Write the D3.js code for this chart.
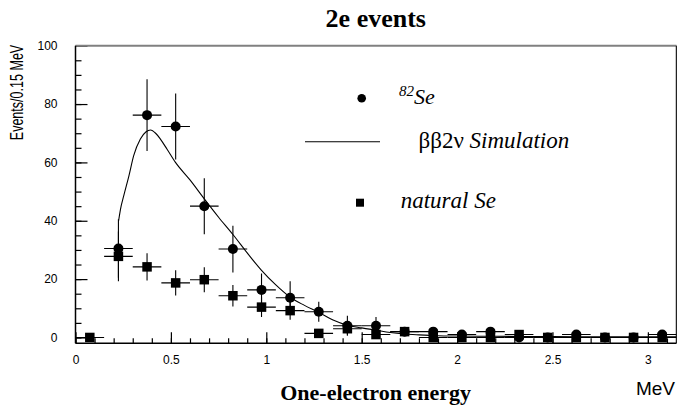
<!DOCTYPE html>
<html>
<head>
<meta charset="utf-8">
<script src="https://cdn.jsdelivr.net/npm/d3@7"></script>
<style>
  html, body { margin: 0; padding: 0; background: #fff; }
  svg { display: block; }
  .tick text { font-family: "Liberation Sans", Arial, sans-serif; font-size: 12px; fill: #000; }
</style>
</head>
<body>
<svg id="chart" width="677" height="410"></svg>
<script>
// Bin centres (MeV), bin width 0.15 MeV
const binWidth = 0.15;

// 82Se sample: events per bin and error
const se82X   = [0.225, 0.375, 0.525, 0.675, 0.825, 0.975, 1.125, 1.275, 1.425, 1.575, 1.725, 1.875, 2.025, 2.175, 2.325, 2.475, 2.625, 2.775, 2.925, 3.075];
const se82Y   = [30.5, 76.2, 72.3, 45.0, 30.3, 16.3, 13.6, 8.8, 4.0, 4.0, 2.0, 2.0, 1.0, 2.0, 0.0, 0.0, 1.0, 0.0, 0.0, 1.0];
const se82Err = [10.0, 12.3, 11.3, 9.6, 8.0, 5.6, 5.7, 3.4, 3.4, 3.0, 1.5, 1.5, 1.0, 1.5, 1.0, 0.8, 1.0, 0.8, 0.8, 1.0];

// natural Se sample
const natX   = [0.075, 0.225, 0.375, 0.525, 0.675, 0.825, 0.975, 1.125, 1.275, 1.425, 1.575, 1.725, 1.875, 2.025, 2.175, 2.325, 2.475, 2.625, 2.775, 2.925, 3.075];
const natY   = [0.0, 27.8, 24.2, 18.7, 19.8, 14.3, 10.4, 9.2, 1.4, 3.0, 1.0, 2.0, 0.0, 0.0, 0.0, 1.0, 0.0, 0.0, 0.0, 0.0, 0.0];
const natErr = [0.8, 8.5, 4.7, 4.3, 4.3, 3.7, 3.4, 3.1, 1.2, 2.0, 1.0, 1.5, 0.8, 0.8, 0.8, 1.0, 0.8, 0.8, 0.8, 0.8, 0.8];

// ββ2ν simulation curve
const simX = [0.226, 0.236, 0.253, 0.28, 0.305, 0.34, 0.37, 0.393, 0.42, 0.445, 0.48, 0.524, 0.6, 0.675, 0.75, 0.825, 0.9, 0.975, 1.05, 1.125, 1.2, 1.275, 1.35, 1.425, 1.5, 1.575, 1.65, 1.725, 1.8, 1.9, 2.0, 2.2, 2.5, 2.8, 3.15];
const simY = [40.0, 44.0, 48.6, 55.4, 62.3, 68.0, 70.5, 71.1, 70.0, 68.0, 64.5, 60.0, 54.0, 47.5, 41.2, 35.3, 29.0, 23.0, 18.0, 13.8, 11.0, 8.6, 6.0, 4.2, 3.3, 2.5, 1.7, 1.2, 0.9, 0.6, 0.5, 0.4, 0.3, 0.2, 0.2];

// Axis ticks
const xMajor = [0, 0.5, 1, 1.5, 2, 2.5, 3];
const xMinor = d3.range(0, 3.15, 0.1);
const yMajor = [0, 20, 40, 60, 80, 100];
const yMinor = d3.range(0, 100, 5);

const svg = d3.select("#chart");
const plotLeft = 75.5, plotRight = 676.5, plotTop = 45.7, plotBottom = 343.3;

const x = d3.scaleLinear().domain([0, 3.15]).range([plotLeft, plotRight]);
const y = d3.scaleLinear().domain([-2, 100]).range([plotBottom, plotTop]);

svg.append("defs").append("clipPath").attr("id", "plot")
  .append("rect").attr("x", plotLeft).attr("y", plotTop)
  .attr("width", plotRight - plotLeft).attr("height", plotBottom - plotTop);

// Axes with inward ticks
const gx = svg.append("g").attr("transform", `translate(0,${plotBottom})`);
gx.call(d3.axisBottom(x).tickValues(xMinor).tickSizeInner(-5).tickSizeOuter(0).tickFormat(""));
gx.select(".domain").remove();
const gx2 = svg.append("g").attr("transform", `translate(0,${plotBottom})`);
gx2.call(d3.axisBottom(x).tickValues(xMajor).tickSizeInner(-11).tickSizeOuter(0).tickPadding(12).tickFormat(d3.format("")));
gx2.select(".domain").remove();

const gy = svg.append("g").attr("transform", `translate(${plotLeft},0)`);
gy.call(d3.axisLeft(y).tickValues(yMinor).tickSizeInner(-6).tickSizeOuter(0).tickFormat(""));
gy.select(".domain").remove();
const gy2 = svg.append("g").attr("transform", `translate(${plotLeft},0)`);
gy2.call(d3.axisLeft(y).tickValues(yMajor).tickSizeInner(-12).tickSizeOuter(0).tickPadding(18));
gy2.select(".domain").remove();
svg.selectAll(".tick line").attr("stroke", "#000").attr("stroke-width", 1.2);

// Frame
svg.append("line").attr("x1", plotLeft).attr("x2", plotRight).attr("y1", plotTop).attr("y2", plotTop).attr("stroke", "#808080").attr("stroke-width", 2);
svg.append("line").attr("x1", plotRight).attr("x2", plotRight).attr("y1", plotTop).attr("y2", plotBottom).attr("stroke", "#222").attr("stroke-width", 1.5);
svg.append("line").attr("x1", plotLeft).attr("x2", plotLeft).attr("y1", plotTop).attr("y2", plotBottom).attr("stroke", "#000").attr("stroke-width", 1.5);
svg.append("line").attr("x1", plotLeft).attr("x2", plotRight).attr("y1", plotBottom).attr("y2", plotBottom).attr("stroke", "#000").attr("stroke-width", 1.5);

const plot = svg.append("g").attr("clip-path", "url(#plot)");

// Simulation curve
const sim = simX.map((v, i) => [v, simY[i]]);
plot.append("path").datum(sim)
  .attr("fill", "none").attr("stroke", "#000").attr("stroke-width", 1.1)
  .attr("d", d3.line().x(d => x(d[0])).y(d => y(d[1])).curve(d3.curveMonotoneX));

function errorBars(xs, ys, es) {
  const g = plot.append("g").attr("stroke", "#000").attr("stroke-width", 1.1);
  xs.forEach((xv, i) => {
    g.append("line").attr("x1", x(xv - binWidth / 2)).attr("x2", x(xv + binWidth / 2))
      .attr("y1", y(ys[i])).attr("y2", y(ys[i]));
    g.append("line").attr("x1", x(xv)).attr("x2", x(xv))
      .attr("y1", y(ys[i] - es[i])).attr("y2", y(ys[i] + es[i]));
  });
}
errorBars(se82X, se82Y, se82Err);
errorBars(natX, natY, natErr);

// 82Se markers
plot.append("g").selectAll("circle").data(se82X).join("circle")
  .attr("cx", d => x(d)).attr("cy", (d, i) => y(se82Y[i])).attr("r", 5).attr("fill", "#000");

// natural Se markers
const sq = 9.5;
plot.append("g").selectAll("rect").data(natX).join("rect")
  .attr("x", d => x(d) - sq / 2).attr("y", (d, i) => y(natY[i]) - sq / 2)
  .attr("width", sq).attr("height", sq).attr("fill", "#000");

// Legend
const serif = "'Liberation Serif', 'Times New Roman', serif";
svg.append("circle").attr("cx", 361.7).attr("cy", 98.3).attr("r", 4.3).attr("fill", "#000");
const t1 = svg.append("text").attr("x", 399).attr("y", 103.5).attr("font-family", serif).attr("font-size", 22).attr("font-style", "italic");
t1.append("tspan").attr("font-size", 15).attr("dy", -8).text("82");
t1.append("tspan").attr("dy", 8).text("Se");

svg.append("line").attr("x1", 305).attr("x2", 380).attr("y1", 141.7).attr("y2", 141.7).attr("stroke", "#000").attr("stroke-width", 1.1);
const t2 = svg.append("text").attr("x", 418.5).attr("y", 148).attr("font-family", serif).attr("font-size", 23);
t2.append("tspan").text("ββ2ν ");
t2.append("tspan").attr("font-style", "italic").text("Simulation");

svg.append("rect").attr("x", 356).attr("y", 198.7).attr("width", 8).attr("height", 8).attr("fill", "#000");
svg.append("text").attr("x", 400.7).attr("y", 207.5).attr("font-family", serif).attr("font-size", 23).attr("font-style", "italic").text("natural Se");

// Titles
svg.append("text").attr("x", 375.8).attr("y", 27).attr("text-anchor", "middle")
  .attr("font-family", serif).attr("font-weight", "bold").attr("font-size", 26).text("2e events");
svg.append("text").attr("x", 375.6).attr("y", 400).attr("text-anchor", "middle")
  .attr("font-family", serif).attr("font-weight", "bold").attr("font-size", 22).text("One-electron energy");
svg.append("text").attr("x", 675).attr("y", 395).attr("text-anchor", "end")
  .attr("font-family", "'Liberation Sans', Arial, sans-serif").attr("font-size", 19).text("MeV");
// Y title: condensed sans, drawn along the axis
svg.append("text").attr("transform", "translate(23,92.5) rotate(-90) scale(0.95,1.42)").attr("text-anchor", "middle")
  .attr("font-family", "'Liberation Sans', Arial, sans-serif").attr("font-size", 13.2)
  .text("Events/0.15 MeV");
</script>
</body>
</html>
